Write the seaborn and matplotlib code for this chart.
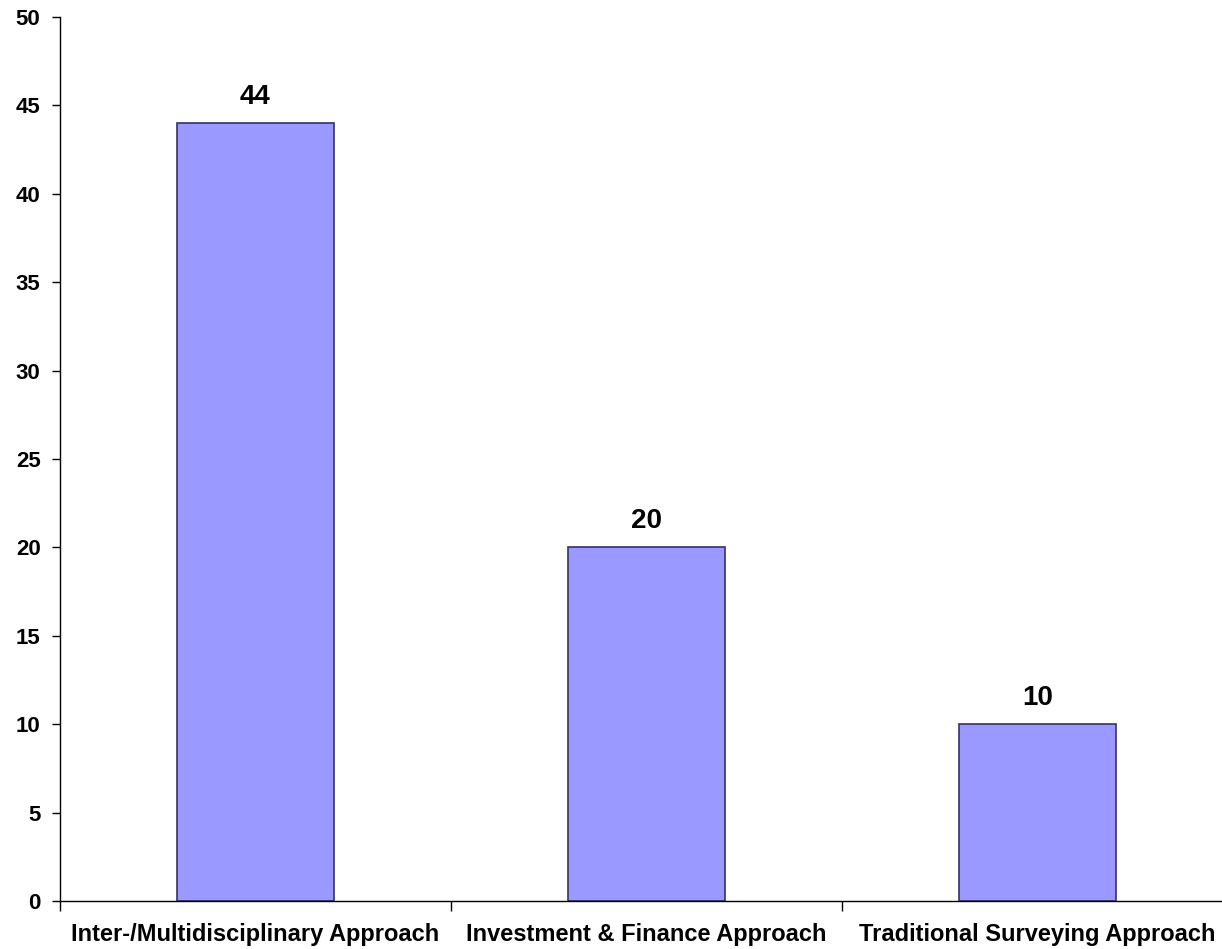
import numpy as np
import pandas as pd

import matplotlib
matplotlib.use("Agg")
import matplotlib.pyplot as plt
import seaborn as sns
from matplotlib.ticker import FixedLocator

# =====================================================
# DATOS
# =====================================================

categorias = [
    "Inter-/Multidisciplinary Approach",
    "Investment & Finance Approach",
    "Traditional Surveying Approach"
]

valores = [44, 20, 10]

y_ticks = [0, 5, 10, 15, 20, 25, 30, 35, 40, 45, 50]

df = pd.DataFrame(
    {
        "Categoria": categorias,
        "Valor": valores
    }
)

# =====================================================
# ESTILO
# =====================================================

sns.set_style("white")
plt.rcParams["font.family"] = ["Liberation Sans", "DejaVu Sans"]
plt.rcParams["font.weight"] = "bold"
plt.rcParams["text.color"] = "black"
plt.rcParams["xtick.color"] = "black"
plt.rcParams["ytick.color"] = "black"

fig = plt.figure(figsize=(12.22, 9.49), dpi=100)

ax = fig.add_axes(
    [60 / 1222, 48 / 949, 1173 / 1222, 884 / 949]
)

sns.barplot(
    data=df,
    x="Categoria",
    y="Valor",
    color="#9999FF",
    width=0.4,
    edgecolor="#333366",
    linewidth=1.2,
    saturation=1,
    ax=ax
)

# =====================================================
# EJES
# =====================================================

ax.set_xlim(-0.5, len(categorias) - 0.5)
ax.set_ylim(0, 50)
ax.set_yticks(y_ticks)

ax.set_xlabel("")
ax.set_ylabel("")

for lado in ["top", "right"]:
    ax.spines[lado].set_visible(False)

for lado in ["left", "bottom"]:
    ax.spines[lado].set_color("black")
    ax.spines[lado].set_linewidth(1.0)

ax.tick_params(
    axis="y",
    direction="out",
    length=6,
    width=1,
    color="black",
    labelcolor="black",
    labelsize=16,
    pad=8,
    left=True
)

ax.tick_params(
    axis="x",
    which="major",
    length=0,
    labelcolor="black",
    labelsize=17,
    pad=16
)

ax.xaxis.set_minor_locator(
    FixedLocator(np.arange(-0.5, len(categorias), 1.0))
)

ax.tick_params(
    axis="x",
    which="minor",
    direction="out",
    length=7,
    width=1,
    color="black",
    bottom=True
)

for etiqueta in ax.get_xticklabels() + ax.get_yticklabels():
    etiqueta.set_fontweight("bold")

# =====================================================
# ETIQUETAS DE VALOR
# =====================================================

for i, v in enumerate(valores):
    ax.annotate(
        str(v),
        xy=(i, v),
        xytext=(0, 14),
        textcoords="offset points",
        ha="center",
        va="baseline",
        fontsize=20,
        fontweight="bold",
        color="black"
    )

fig.savefig("out.png", dpi=100)
